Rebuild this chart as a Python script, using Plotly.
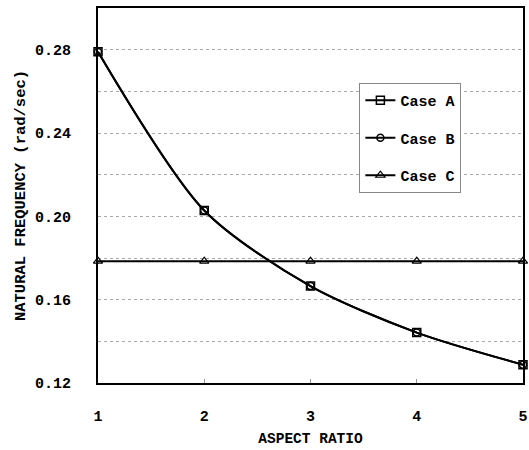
import plotly.graph_objects as go

aspect_ratio = [1, 2, 3, 4, 5]
case_a = [0.279, 0.2028, 0.1665, 0.1442, 0.1288]
case_b = [0.279, 0.2028, 0.1665, 0.1442, 0.1288]
case_c = [0.1785, 0.1785, 0.1785, 0.1785, 0.1785]
y_ticks = [0.12, 0.16, 0.20, 0.24, 0.28]
y_tick_labels = ["0.12", "0.16", "0.20", "0.24", "0.28"]
x_ticks = [1, 2, 3, 4, 5]

FONT = "Liberation Mono"

fig = go.Figure()
fig.add_trace(go.Scatter(x=aspect_ratio, y=case_a, name="Case A", legendgroup="a", cliponaxis=False,
                         mode="lines+markers", line=dict(color="black", width=2, shape="spline", smoothing=0.8),
                         marker=dict(symbol="square-open", size=8, color="black", line=dict(width=1.5))))
fig.add_trace(go.Scatter(x=aspect_ratio, y=case_b, name="Case B", legendgroup="b", cliponaxis=False,
                         mode="lines+markers", line=dict(color="black", width=2, shape="spline", smoothing=0.8),
                         marker=dict(symbol="circle-open", size=7, color="black", line=dict(width=1.5))))
fig.add_trace(go.Scatter(x=aspect_ratio, y=case_c, name="Case C", legendgroup="c", cliponaxis=False,
                         mode="lines+markers", line=dict(color="black", width=2),
                         marker=dict(symbol="triangle-up-open", size=8, color="black", line=dict(width=1.2))))

fig.update_layout(
    width=529, height=450,
    margin=dict(l=98, r=6, t=8, b=67),
    plot_bgcolor="white", paper_bgcolor="white",
    font=dict(family=FONT, color="black", size=14),
    showlegend=True,
    legend=dict(x=0.615, y=0.80, xanchor="left", yanchor="top",
                bordercolor="#888", borderwidth=1, bgcolor="white",
                font=dict(family=FONT, size=15, color="black", weight="bold"),
                tracegroupgap=15, itemwidth=30),
)
fig.update_xaxes(range=[1, 5], tickvals=x_ticks, showgrid=False, zeroline=False, automargin=False,
                 showline=True, linecolor="black", linewidth=2, mirror=True,
                 ticks="inside", ticklen=4, tickcolor="#999",
                 ticklabelstandoff=18, ticklabeloverflow="allow",
                 tickfont=dict(family=FONT, size=15, weight="bold"),
                 title=dict(text="ASPECT RATIO", font=dict(family=FONT, size=14.5, weight="bold"), standoff=8))
fig.update_yaxes(range=[0.12, 0.30], tickvals=y_ticks, ticktext=y_tick_labels, automargin=False,
                 showgrid=True, gridcolor="#aaa", griddash="dot", gridwidth=1,
                 minor=dict(dtick=0.02, tick0=0.12, showgrid=True, gridcolor="#aaa", griddash="dot", gridwidth=1),
                 zeroline=False, showline=True, linecolor="black", linewidth=2, mirror=True,
                 ticks="", ticklabelstandoff=22,
                 tickfont=dict(family=FONT, size=15, weight="bold"),
                 title=dict(text="NATURAL FREQUENCY (rad/sec)", font=dict(family=FONT, size=15.5, weight="bold"), standoff=6))

fig.write_html("out.html", config={"displayModeBar": False},
               post_script="document.body.style.margin='0';document.body.style.overflow='hidden';")
